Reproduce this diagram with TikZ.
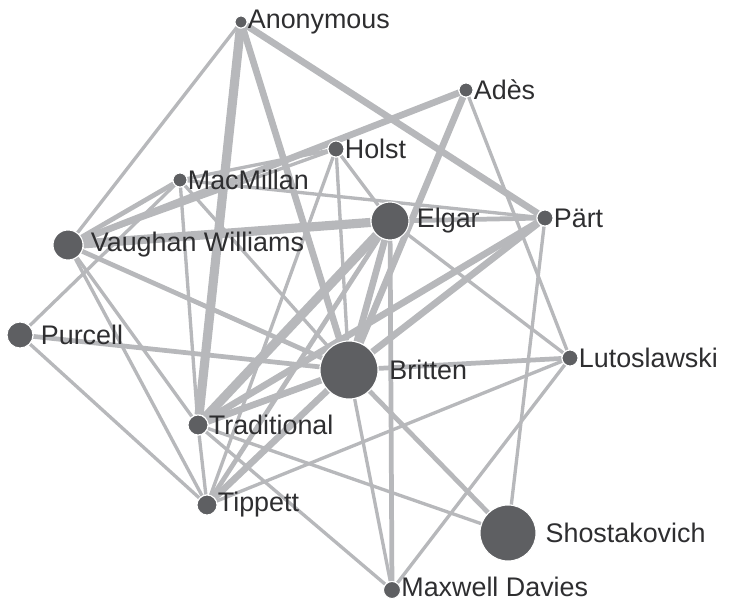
\documentclass[tikz,border=0pt]{standalone}
\usepackage{fontspec}
\setmainfont{Liberation Sans}
\usepackage{tikz}
\usetikzlibrary{positioning,backgrounds}

\definecolor{dotgray}{HTML}{5E5F62}
\definecolor{linkgray}{HTML}{B7B8BB}
\definecolor{textgray}{HTML}{2E2E30}

\tikzset{
  every label/.style={font=\fontsize{15.3}{18}\selectfont,text=textgray,inner sep=0pt},
  composer/.style={circle,fill=dotgray,draw=white,line width=0.6pt,inner sep=0pt,
    label distance=2pt},
  link/.style={draw=linkgray},
  w1/.style={line width=1.9pt},
  w2/.style={line width=2.7pt},
  w3/.style={line width=3.8pt},
  w4/.style={line width=5.2pt}
}

\begin{document}
\begin{tikzpicture}[x=0.02cm,y=-0.02cm]
      \useasboundingbox (0,0) rectangle (730,601);

      \node[composer,minimum size=0.24cm,label=right:Anonymous] (anon) at (241,22) {};
      \node[composer,minimum size=0.28cm,label=right:Adès] (ades) at (466,90) {};
      \node[composer,minimum size=0.32cm,label=right:Holst] (holst) at (336,149) {};
      \node[composer,minimum size=0.28cm,label=right:MacMillan] (mac) at (180,180) {};
      \node[composer,minimum size=0.76cm,label={[label distance=4pt]right:Elgar}] (elgar) at (390,221) {};
      \node[composer,minimum size=0.32cm,label=right:Pärt] (part) at (545,218) {};
      \node[composer,minimum size=0.60cm,label={[label distance=4pt]right:Vaughan Williams}] (vw) at (68,245) {};
      \node[composer,minimum size=0.52cm,label={[label distance=4pt]right:Purcell}] (purcell) at (20,335) {};
      \node[composer,minimum size=1.16cm,label={[label distance=6pt]right:Britten}] (britten) at (349,370) {};
      \node[composer,minimum size=0.32cm,label=right:Lutoslawski] (luto) at (570,358) {};
      \node[composer,minimum size=0.40cm,label=right:Traditional] (trad) at (198,425) {};
      \node[composer,minimum size=0.40cm,label=right:Tippett] (tippett) at (207,505) {};
      \node[composer,minimum size=1.12cm,label={[label distance=5pt]right:Shostakovich}] (shosta) at (508,533) {};
      \node[composer,minimum size=0.34cm,label={[yshift=1.5pt]right:Maxwell Davies}] (maxwell) at (392,590) {};

      \begin{scope}[on background layer]
      \path[link]
      (anon) edge[w1] (vw)
      edge[w4] (trad)
      edge[w3] (britten)
      edge[w3] (part)

      (ades) edge[w3] (vw)
      edge[w3] (britten)
      edge[w1] (luto)

      (holst) edge[w1] (mac)
      edge[w1] (vw)
      edge[w1] (elgar)
      edge[w1] (tippett)
      edge[w1] (britten)

      (mac) edge[w1] (part)
      edge[w2] (vw)
      edge[w1] (trad)
      edge[w1] (britten)

      (vw) edge[w4] (elgar)
      edge[w2] (britten)
      edge[w1] (tippett)
      edge[w1] (trad)

      (purcell) edge[w1] (mac)
      edge[w2] (britten)
      edge[w1] (tippett)

      (elgar) edge[w2] (part)
      edge[w3] (britten)
      edge[w4] (trad)
      edge[w2] (tippett)
      edge[w2] (maxwell)
      edge[w1] (luto)

      (part) edge[w3] (britten)
      edge[w3] (trad)
      edge[w1] (shosta)

      (britten) edge[w3] (trad)
      edge[w3] (tippett)
      edge[w2] (luto)
      edge[w2] (shosta)
      edge[w1] (maxwell)

      (trad) edge[w1] (tippett)
      edge[w1] (shosta)
      edge[w1] (maxwell)

      (tippett) edge[w1] (luto)

      (luto) edge[w1] (maxwell);
      \end{scope}

    \end{tikzpicture}
\end{document}
